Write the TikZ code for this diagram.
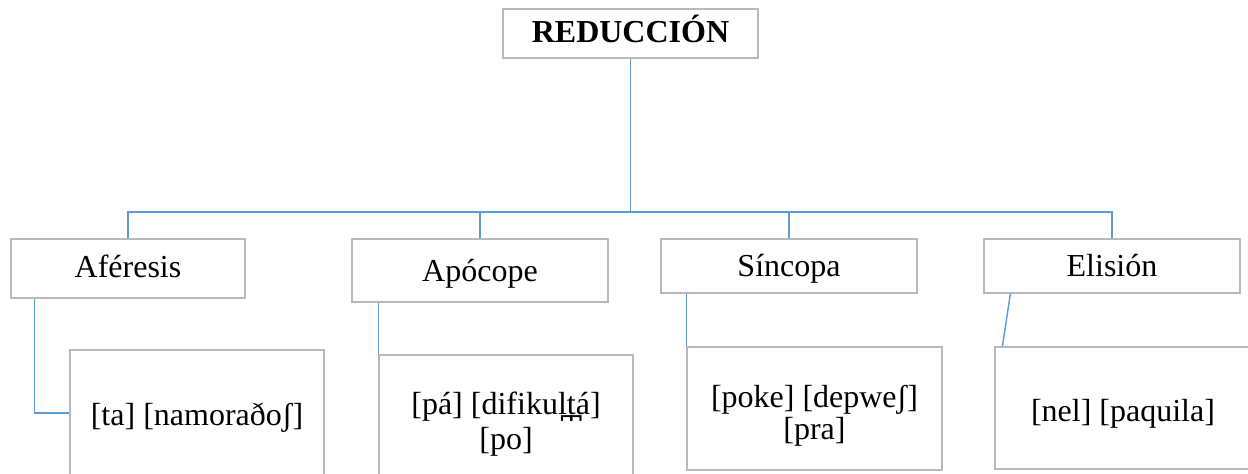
\documentclass[tikz,border=0pt]{standalone}
\usepackage{fontspec}
\setmainfont{Liberation Serif}
\definecolor{linkblue}{RGB}{91,155,213}
\definecolor{boxgray}{RGB}{185,185,185}
% invisible strut: height, depth
\newcommand{\lnstrut}[2]{\rule[-#2]{0pt}{\dimexpr#1+#2\relax}}
\begin{document}
\begin{tikzpicture}[x=0.5pt,y=-0.5pt,
  box/.style={draw=boxgray, line width=0.6pt, fill=white, inner sep=0pt,
    align=center, font=\fontsize{16}{14.5}\selectfont},
  base/.style={text height=#1, text depth=0pt},
  link/.style={draw=linkblue, line width=0.7pt}]
  \useasboundingbox[fill=white] (0,0) rectangle (1248,474);
  \clip (0,0) rectangle (1248,474);

  % top node
  \node[box, base=9.5pt, minimum width=127.5pt, minimum height=24.5pt,
        font=\fontsize{16}{14.5}\selectfont\bfseries] (root) at (630.5,33.5) {REDUCCIÓN};

  % first level
  \node[box, base=9.5pt,  minimum width=117pt, minimum height=29.5pt] (afe) at (128,268.5) {Aféresis};
  \node[box, base=11.5pt, minimum width=128pt, minimum height=31.5pt] (apo) at (480,270.5) {Apócope};
  \node[box, base=11pt,   minimum width=128pt, minimum height=27pt]   (sin) at (789,266)   {Síncopa};
  \node[box, base=11pt,   minimum width=128pt, minimum height=27pt]   (eli) at (1112,266)  {Elisión};

  % bus between the levels
  \coordinate (busy) at (0,212);
  \draw[link] (root.south) -- (root.south |- busy);
  \draw[link] (afe.north) -- (afe.north |- busy) -| (eli.north);
  \draw[link] (apo.north) -- (apo.north |- busy);
  \draw[link] (sin.north) -- (sin.north |- busy);

  % example boxes
  \node[box, base=13pt, minimum width=127pt, minimum height=63pt] (afex) at (197,413) {[ta] [namoraðoʃ]};
  \node[box, minimum width=127pt, minimum height=68pt,
        font=\fontsize{16}{17.5}\selectfont] (apex) at (506,423)
        {\lnstrut{13.5pt}{0pt}[pá] [difikul̪t̪á]\\{}[po]\lnstrut{0pt}{4pt}};
  \node[box, minimum width=127.5pt, minimum height=61.5pt,
        font=\fontsize{16}{16}\selectfont] (siex) at (814.5,408.5)
        {\lnstrut{19.5pt}{0pt}[poke] [depweʃ]\\{}[pra]\lnstrut{0pt}{4pt}};
  \node[box, base=14pt, minimum width=128pt, minimum height=61pt] (elex) at (1123,408) {[nel] [paquila]};

  % links to the examples
  \draw[link] ([xshift=12pt]afe.south west) |- (afex.west);
  \draw[link] (apex.north west |- apo.south) -- (apex.north west);
  \draw[link] (siex.north west |- sin.south) -- (siex.north west);
  \draw[link] ([xshift=13.5pt]eli.south west) -- ([xshift=4pt]elex.north west);
\end{tikzpicture}
\end{document}
